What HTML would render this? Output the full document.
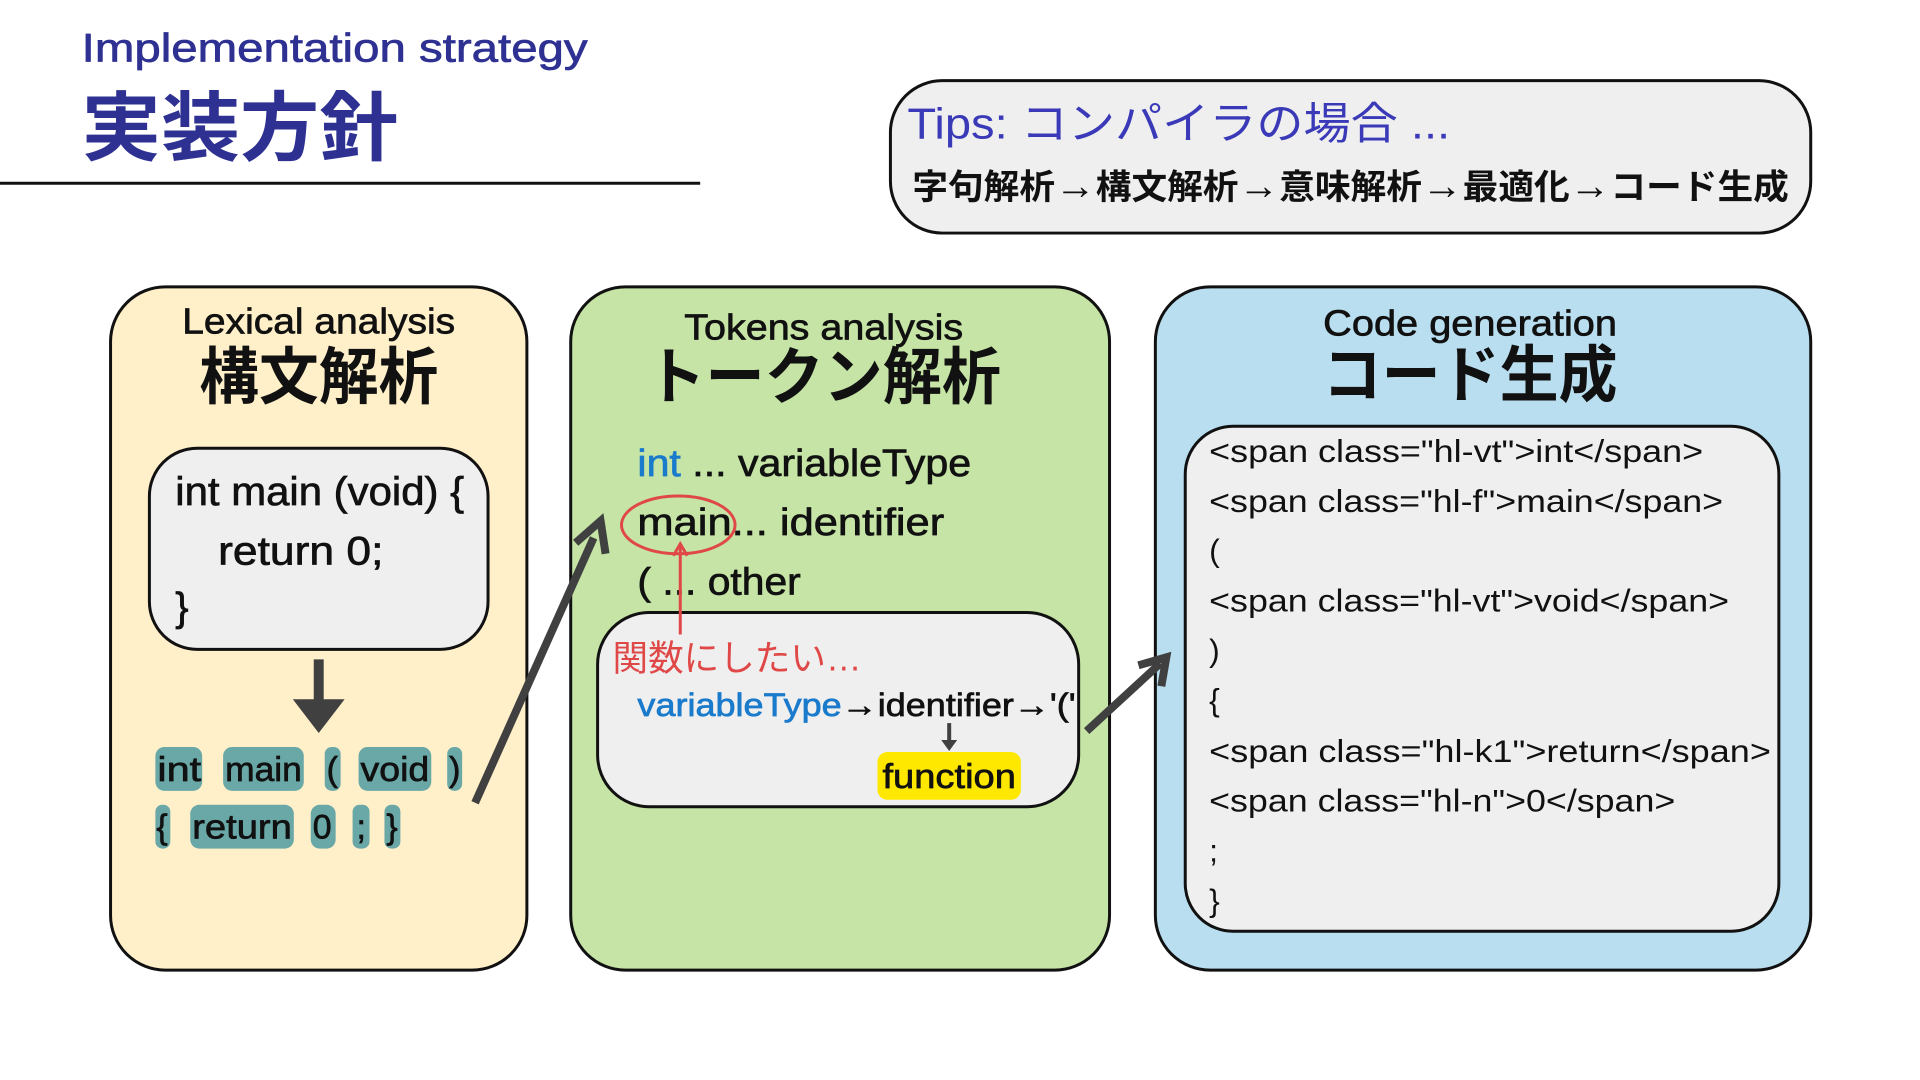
<!DOCTYPE html>
<html><head><meta charset="utf-8"><style>
html,body{margin:0;padding:0;background:#fff;width:1920px;height:1080px;overflow:hidden}
svg{display:block}
text{font-family:"Liberation Sans","Noto Sans CJK JP",sans-serif}
.b{font-weight:bold}
.m{stroke:currentColor;stroke-width:0.7}
</style></head><body>
<svg width="1920" height="1080" viewBox="0 0 1920 1080" xmlns="http://www.w3.org/2000/svg">
<g transform="scale(0.996)">
<!-- header -->
<text x="82" y="62" font-size="40" fill="#2e3192" class="m" color="#2e3192" textLength="508" lengthAdjust="spacingAndGlyphs">Implementation strategy</text>
<text x="82" y="155" font-size="76" class="b" fill="#2e3192" textLength="318" lengthAdjust="spacingAndGlyphs">実装方針</text>
<line x1="0" y1="184" x2="703" y2="184" stroke="#111" stroke-width="3"/>
<!-- tips -->
<rect x="894" y="81" width="924" height="153" rx="52" fill="#efefef" stroke="#111" stroke-width="3"/>
<text x="911" y="139" font-size="44" fill="#3a3ab8" textLength="545" lengthAdjust="spacingAndGlyphs">Tips: コンパイラの場合 ...</text>
<text x="916" y="200" font-size="35" class="b" fill="#111" textLength="880" lengthAdjust="spacingAndGlyphs">字句解析<tspan font-size="40">→</tspan>構文解析<tspan font-size="40">→</tspan>意味解析<tspan font-size="40">→</tspan>最適化<tspan font-size="40">→</tspan>コード生成</text>
<!-- panels -->
<rect x="111" y="288" width="418" height="686" rx="55" fill="#fff0c9" stroke="#111" stroke-width="3"/>
<rect x="573" y="288" width="541" height="686" rx="55" fill="#c5e4a5" stroke="#111" stroke-width="3"/>
<rect x="1160" y="288" width="658" height="686" rx="55" fill="#b9def0" stroke="#111" stroke-width="3"/>
<g color="#111">
<!-- panel 1 -->
<text x="320" y="335" font-size="36" text-anchor="middle" fill="#111" class="m" textLength="274" lengthAdjust="spacingAndGlyphs">Lexical analysis</text>
<text x="320" y="400" font-size="62" class="b" text-anchor="middle" fill="#111" textLength="240" lengthAdjust="spacingAndGlyphs">構文解析</text>
<rect x="150" y="450" width="340" height="202" rx="48" fill="#efefef" stroke="#111" stroke-width="3"/>
<text x="176" y="507" font-size="40" fill="#111" class="m" textLength="290" lengthAdjust="spacingAndGlyphs">int main (void) {</text>
<text x="219" y="567" font-size="40" fill="#111" class="m" textLength="166" lengthAdjust="spacingAndGlyphs">return 0;</text>
<text x="176" y="623" font-size="40" fill="#111" class="m">}</text>
<line x1="320" y1="662" x2="320" y2="706" stroke="#404040" stroke-width="10"/>
<polygon points="294,702 346,702 320,736" fill="#404040"/>
<g fill="#6aa8a8">
<rect x="156" y="750" width="47" height="44" rx="9"/><rect x="224" y="750" width="81" height="44" rx="9"/>
<rect x="326" y="750" width="16" height="44" rx="7"/><rect x="360" y="750" width="73" height="44" rx="9"/>
<rect x="449" y="750" width="15" height="44" rx="7"/>
<rect x="156" y="808" width="15" height="44" rx="7"/><rect x="191" y="808" width="104" height="44" rx="9"/>
<rect x="312" y="808" width="25" height="44" rx="9"/><rect x="354" y="808" width="17" height="44" rx="7"/>
<rect x="386" y="808" width="16" height="44" rx="7"/>
</g>
<g font-size="34" fill="#111" class="m">
<text x="158" y="784" textLength="44" lengthAdjust="spacingAndGlyphs">int</text>
<text x="226" y="784" textLength="77" lengthAdjust="spacingAndGlyphs">main</text>
<text x="328" y="784">(</text>
<text x="362" y="784" textLength="69" lengthAdjust="spacingAndGlyphs">void</text>
<text x="451" y="784">)</text>
<text x="157" y="842">{</text>
<text x="193" y="842" textLength="100" lengthAdjust="spacingAndGlyphs">return</text>
<text x="314" y="842">0</text>
<text x="358" y="842">;</text>
<text x="388" y="842">}</text>
</g>
<line x1="477" y1="806" x2="596" y2="540" stroke="#404040" stroke-width="8"/>
<polyline points="578,545 603,523 608,556" fill="none" stroke="#404040" stroke-width="8"/>
<!-- panel 2 -->
<text x="827" y="341" font-size="36" text-anchor="middle" fill="#111" class="m" textLength="280" lengthAdjust="spacingAndGlyphs">Tokens analysis</text>
<text x="827" y="400" font-size="62" class="b" text-anchor="middle" fill="#111" textLength="356" lengthAdjust="spacingAndGlyphs">トークン解析</text>
<text x="640" y="478" font-size="38" fill="#111" class="m" textLength="335" lengthAdjust="spacingAndGlyphs"><tspan fill="#1a7acb" color="#1a7acb">int</tspan> ... variableType</text>
<text x="640" y="537" font-size="38" fill="#111" class="m" textLength="308" lengthAdjust="spacingAndGlyphs">main... identifier</text>
<text x="640" y="597" font-size="38" fill="#111" class="m" textLength="164" lengthAdjust="spacingAndGlyphs">( ... other</text>
<ellipse cx="681" cy="527" rx="57" ry="29" fill="none" stroke="#e04848" stroke-width="3"/>
<rect x="600" y="615" width="483" height="195" rx="52" fill="#efefef" stroke="#111" stroke-width="3"/>
<line x1="683" y1="637" x2="683" y2="548" stroke="#e04848" stroke-width="3"/>
<polyline points="676,558 683,546 690,558" fill="none" stroke="#e04848" stroke-width="3"/>
<text x="615" y="673" font-size="36" fill="#e04848" textLength="250" lengthAdjust="spacingAndGlyphs">関数にしたい…</text>
<text x="640" y="719" font-size="33" fill="#111" class="m" textLength="440" lengthAdjust="spacingAndGlyphs"><tspan fill="#1a7acb" color="#1a7acb">variableType</tspan>→identifier→'('</text>
<line x1="953" y1="726" x2="953" y2="745" stroke="#404040" stroke-width="4"/>
<polygon points="945,743 961,743 953,754" fill="#404040"/>
<rect x="881" y="755" width="144" height="48" rx="10" fill="#ffe800"/>
<text x="953" y="791" font-size="34" text-anchor="middle" fill="#111" class="m" textLength="134" lengthAdjust="spacingAndGlyphs">function</text>
<line x1="1091" y1="734" x2="1165" y2="666" stroke="#404040" stroke-width="8"/>
<polyline points="1143,668 1171,660 1166,689" fill="none" stroke="#404040" stroke-width="8"/>
<!-- panel 3 -->
<text x="1476" y="337" font-size="36" text-anchor="middle" fill="#111" class="m" textLength="295" lengthAdjust="spacingAndGlyphs">Code generation</text>
<text x="1476" y="398" font-size="62" class="b" text-anchor="middle" fill="#111" textLength="296" lengthAdjust="spacingAndGlyphs">コード生成</text>
<rect x="1190" y="428" width="596" height="507" rx="48" fill="#efefef" stroke="#111" stroke-width="3"/>
<g font-size="32" fill="#111">
<text x="1214" y="464" textLength="496" lengthAdjust="spacingAndGlyphs">&lt;span class="hl-vt"&gt;int&lt;/span&gt;</text>
<text x="1214" y="514" textLength="516" lengthAdjust="spacingAndGlyphs">&lt;span class="hl-f"&gt;main&lt;/span&gt;</text>
<text x="1214" y="564">(</text>
<text x="1214" y="614" textLength="522" lengthAdjust="spacingAndGlyphs">&lt;span class="hl-vt"&gt;void&lt;/span&gt;</text>
<text x="1214" y="664">)</text>
<text x="1214" y="714">{</text>
<text x="1214" y="765" textLength="564" lengthAdjust="spacingAndGlyphs">&lt;span class="hl-k1"&gt;return&lt;/span&gt;</text>
<text x="1214" y="815" textLength="468" lengthAdjust="spacingAndGlyphs">&lt;span class="hl-n"&gt;0&lt;/span&gt;</text>
<text x="1214" y="865">;</text>
<text x="1214" y="915">}</text>
</g>
</g>
</g>
</svg>
</body></html>
